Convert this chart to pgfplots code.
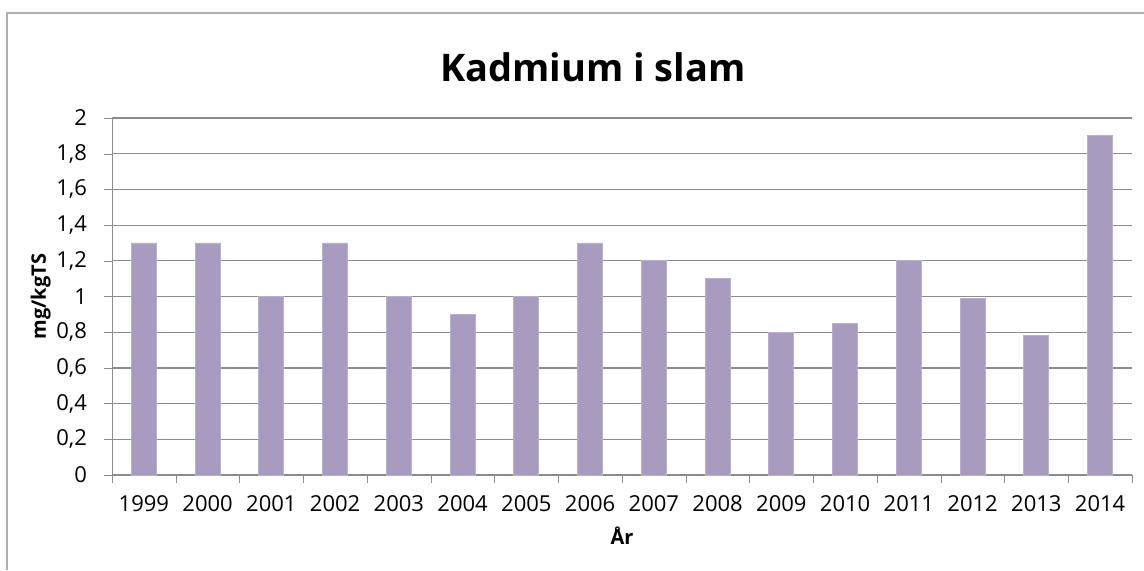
\documentclass[border=0pt]{standalone}
\usepackage{fontspec}
\setmainfont{Open Sans}
\usepackage{pgfplots}
\pgfplotsset{compat=1.18}
\definecolor{barlila}{HTML}{A99BC0}
\definecolor{gridgray}{HTML}{8C8C8C}
\begin{document}
\begin{tikzpicture}[x=0.5pt,y=0.5pt]
% bounding box in pixel units: axis corner at pixel (112,475)
\path[use as bounding box] (-112,-95) rectangle (1032,475);
\draw[gridgray!70, line width=0.8pt] (-105,-95) -- (-105,462) -- (1032,462);
\node[font=\bfseries\fontsize{19}{21}\selectfont] at (481,408) {Kadmium i slam};
\begin{axis}[
  at={(0,0)}, anchor=south west,
  scale only axis, width=510pt, height=178.5pt,
  ybar, bar width=12.5pt,
  xmin=-0.5, xmax=15.5, ymin=0, ymax=2,
  axis lines*=left,
  axis line style={gridgray},
  xtick={0,...,15},
  xticklabels={1999,2000,2001,2002,2003,2004,2005,2006,2007,2008,2009,2010,2011,2012,2013,2014},
  minor xtick={-0.5,0.5,...,15.5},
  major x tick style={draw=none},
  minor x tick style={gridgray},
  minor tick length=4pt,
  ytick={0,0.2,...,2.01},
  ytick style={gridgray},
  major tick length=4pt,
  tick align=outside,
  ymajorgrids, grid style={gridgray, line width=0.6pt},
  yticklabel style={/pgf/number format/fixed, /pgf/number format/use comma, /pgf/number format/precision=1, xshift=-5pt},
  /pgf/number format/assume math mode=true,
  tick label style={font=\fontsize{11}{12}\selectfont},
  xticklabel style={yshift=-2.5pt},
  xlabel={År}, ylabel={mg/kgTS},
  label style={font=\bfseries\fontsize{10}{11}\selectfont},
  xlabel style={yshift=-1pt},
  ylabel style={yshift=-4pt},
]
\addplot[fill=barlila, draw=barlila!80!white] coordinates {
(0,1.3) (1,1.3) (2,1.0) (3,1.3) (4,1.0) (5,0.9) (6,1.0) (7,1.3)
(8,1.2) (9,1.1) (10,0.8) (11,0.85) (12,1.2) (13,0.99) (14,0.78) (15,1.9)};
\end{axis}
\end{tikzpicture}
\end{document}
